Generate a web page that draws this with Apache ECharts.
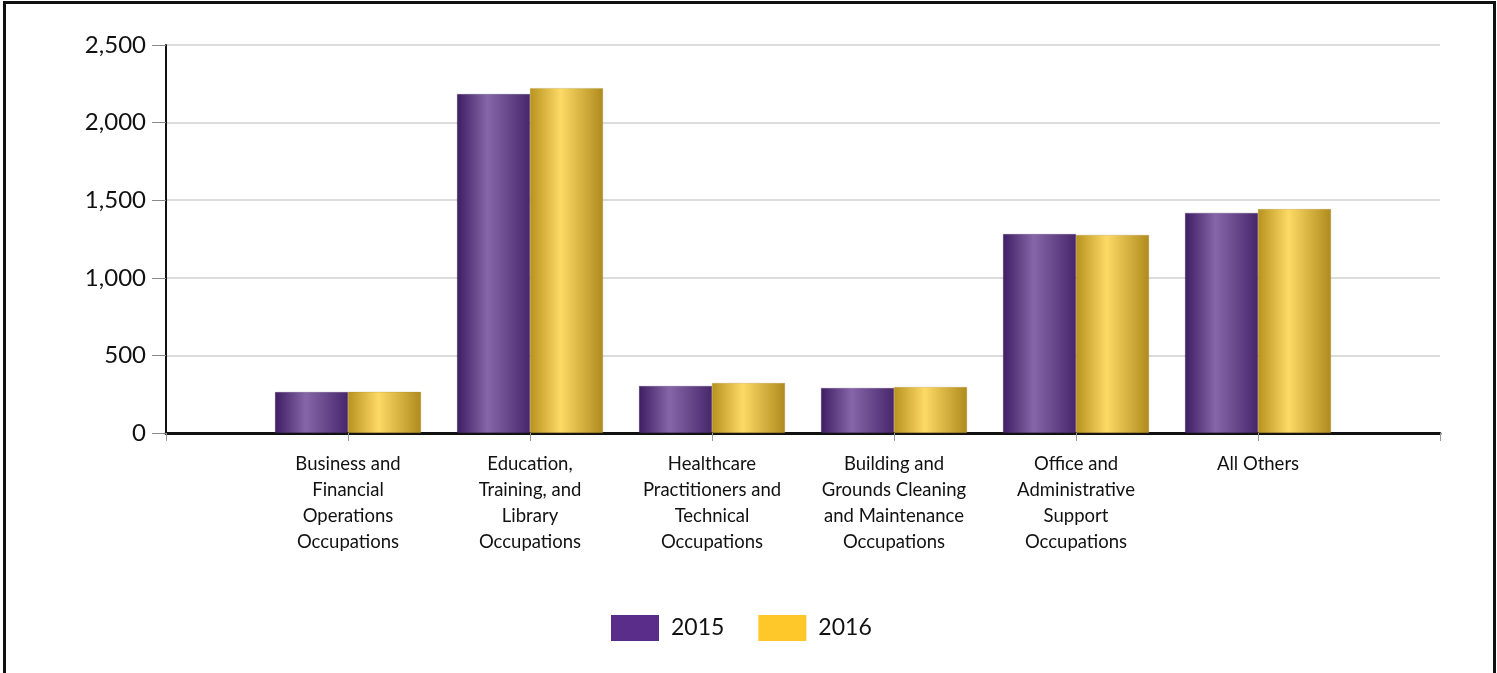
<!DOCTYPE html>
<html>
<head>
<meta charset="utf-8">
<script src="https://cdn.jsdelivr.net/npm/echarts@6/dist/echarts.min.js"></script>
<style>
  html, body { margin: 0; padding: 0; background: #fff; }
  #chart { position: absolute; left: 0; top: 0; width: 1497px; height: 673px; }
  #frame { position: absolute; left: 3px; top: 1px; width: 1487px; height: 700px; border: 3px solid #111; pointer-events: none; }
</style>
</head>
<body>
<div id="chart"></div>
<div id="frame"></div>
<script>
  // occupation groups and counts per year
  const categories = [
    'Business and\nFinancial\nOperations\nOccupations',
    'Education,\nTraining, and\nLibrary\nOccupations',
    'Healthcare\nPractitioners and\nTechnical\nOccupations',
    'Building and\nGrounds Cleaning\nand Maintenance\nOccupations',
    'Office and\nAdministrative\nSupport\nOccupations',
    'All Others'
  ]
  const values2015 = [264, 2184, 303, 290, 1282, 1418]
  const values2016 = [265, 2222, 322, 296, 1276, 1443]
  const yTicks = [0, 500, 1000, 1500, 2000, 2500]

  const chart = echarts.init(document.getElementById('chart'))

  // empty slot at each end so bars sit on the inner ticks
  const axisData = [''].concat(categories, [''])
  const pad = arr => ['-'].concat(arr, ['-'])

  const grad = (edgeL, light, edgeR) => new echarts.graphic.LinearGradient(0, 0, 1, 0, [
    { offset: 0, color: edgeL },
    { offset: 0.42, color: light },
    { offset: 1, color: edgeR }
  ])

  chart.setOption({
    animation: false,
    textStyle: { fontFamily: 'Lato' },
    grid: { left: 166, right: 57, top: 45, bottom: 240 },
    legend: {
      bottom: 27,
      left: 606,
      icon: 'rect',
      itemWidth: 48,
      itemHeight: 26,
      itemGap: 34,
      textStyle: { fontSize: 23, color: '#111', fontFamily: 'Lato', padding: [0, 0, 0, 7] },
      data: [
        { name: '2015', itemStyle: { color: '#5b2d8a', borderWidth: 0 } },
        { name: '2016', itemStyle: { color: '#ffc82a', borderWidth: 0 } }
      ]
    },
    xAxis: {
      type: 'category',
      boundaryGap: false,
      data: axisData,
      axisLine: { lineStyle: { color: '#111', width: 3 } },
      axisTick: { show: true, interval: 0, length: 8, lineStyle: { color: '#999' } },
      axisLabel: { interval: 0, margin: 18, fontSize: 18.5, lineHeight: 26, color: '#111', verticalAlign: 'top' },
      splitLine: { show: false }
    },
    yAxis: {
      type: 'value',
      min: yTicks[0],
      max: yTicks[yTicks.length - 1],
      interval: 500,
      axisLine: { show: true, lineStyle: { color: '#111', width: 2 } },
      axisTick: { show: true, length: 14, lineStyle: { color: '#888' } },
      axisLabel: {
        margin: 20,
        fontSize: 24,
        color: '#111',
        formatter: v => v.toLocaleString('en-US')
      },
      splitLine: { lineStyle: { color: '#dcdcdc', width: 2 } }
    },
    series: [{
      name: '2015',
      type: 'bar',
      barWidth: 73,
      barGap: '0%',
      data: pad(values2015),
      itemStyle: { color: grad('#3e1d62', '#8666a8', '#47266b'), borderColor: 'rgba(60,30,90,0.5)', borderWidth: 0.5 }
    }, {
      name: '2016',
      type: 'bar',
      barWidth: 73,
      barGap: '0%',
      data: pad(values2016),
      itemStyle: { color: grad('#b8921e', '#fdd966', '#ae8b1c'), borderColor: 'rgba(160,130,30,0.5)', borderWidth: 0.5 }
    }]
  })
</script>
</body>
</html>
